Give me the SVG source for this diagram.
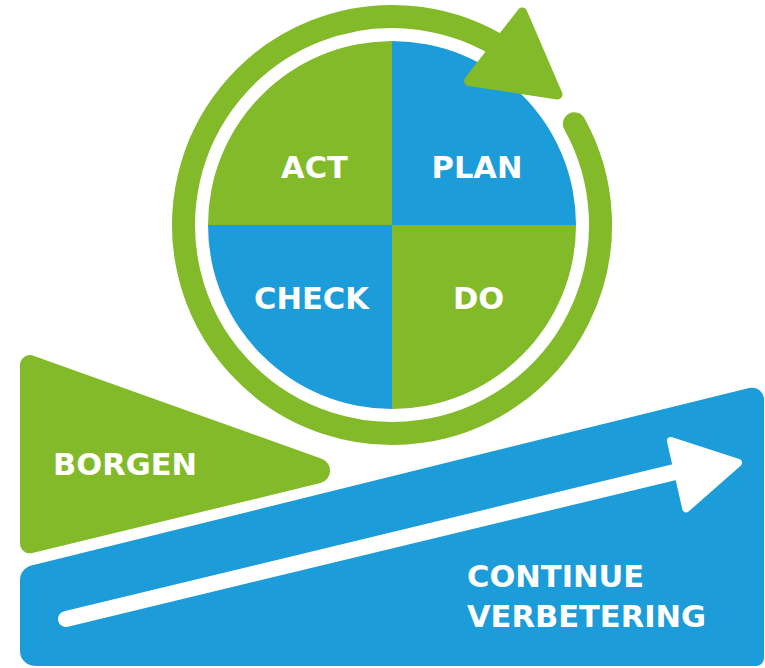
<svg xmlns="http://www.w3.org/2000/svg" width="765" height="668" viewBox="0 0 765 668">
  <style>
    .g { fill: #82BA29; }
    .b { fill: #1C9CD8; }
    .lbl { font-family: "DejaVu Sans", "Liberation Sans", sans-serif; font-weight: bold; font-size: 30.5px; fill: #FFFFFF; }
  </style>
  <rect x="0" y="0" width="765" height="668" fill="#FFFFFF"/>

  <g id="ramp">
    <path class="b" d="M31.45,565.4 L749.1,388 A12,12 0 0 1 764,399.6 L764,658 A8,8 0 0 1 756,666 L35,666 A15,15 0 0 1 20,651 L20,580 A15,15 0 0 1 31.45,565.4 Z"/>
    <text class="lbl" x="467" y="587">CONTINUE</text>
    <text class="lbl" x="467" y="627">VERBETERING</text>
  </g>

  <g id="borgen">
    <path class="g" d="M33.4,355.7 L321.8,458.8 A12.7,12.7 0 0 1 320.5,483 L32.3,553.1 A10,10 0 0 1 20,543.4 L20,365.1 A10,10 0 0 1 33.4,355.7 Z"/>
    <text class="lbl" x="53" y="475">BORGEN</text>
  </g>

  <g id="act">
    <path class="g" d="M392,225 L208,225 A184,184 0 0 1 392,41 Z"/>
    <text class="lbl" x="314.5" y="177.5" text-anchor="middle">ACT</text>
  </g>
  <g id="plan">
    <path class="b" d="M392,225 L392,41 A184,184 0 0 1 576,225 Z"/>
    <text class="lbl" x="477" y="177.5" text-anchor="middle">PLAN</text>
  </g>
  <g id="check">
    <path class="b" d="M392,225 L392,409 A184,184 0 0 1 208,225 Z"/>
    <text class="lbl" x="311.5" y="308.5" text-anchor="middle">CHECK</text>
  </g>
  <g id="do">
    <path class="g" d="M392,225 L576,225 A184,184 0 0 1 392,409 Z"/>
    <text class="lbl" x="478.5" y="308.5" text-anchor="middle">DO</text>
  </g>

  <g id="connectors">
    <path d="M574.4,123.9 A208.5,208.5 0 1 1 508.6,52.1" fill="none" stroke="#82BA29" stroke-width="23" stroke-linecap="round"/>
    <polygon points="522.2,12.5 557.5,94.5 469,81" fill="#82BA29" stroke="#82BA29" stroke-width="10" stroke-linejoin="round"/>
    <line x1="66" y1="619" x2="690" y2="468.4" stroke="#FFFFFF" stroke-width="16" stroke-linecap="round"/>
    <polygon points="671,441 738,462.8 686.2,508.3" fill="#FFFFFF" stroke="#FFFFFF" stroke-width="8" stroke-linejoin="round"/>
  </g>
</svg>
